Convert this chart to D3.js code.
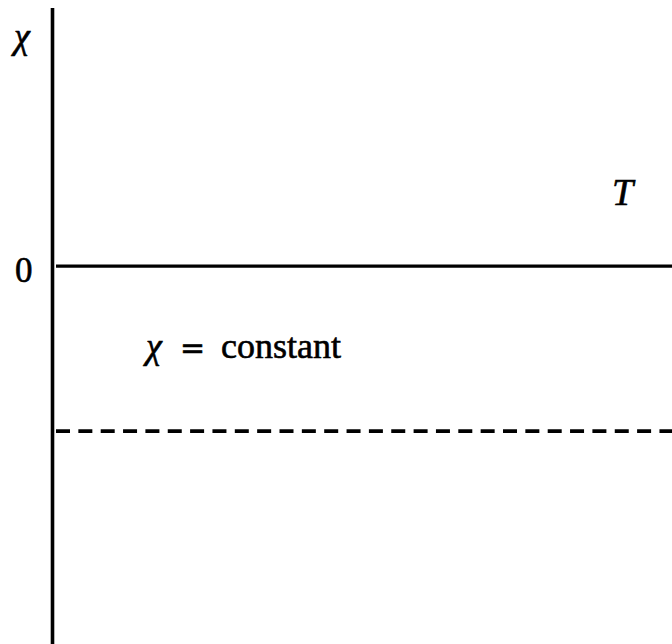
<!DOCTYPE html>
<html>
<head>
<meta charset="utf-8">
<script src="https://cdn.jsdelivr.net/npm/d3@7"></script>
<style>
  html, body { margin: 0; padding: 0; background: #fff; }
  svg { display: block; }
  text { font-family: "Liberation Serif", "DejaVu Serif", serif; fill: #000; stroke: #000; stroke-width: 0.6px; }
</style>
</head>
<body>
<div id="chart"></div>
<script>
// horizontal reference levels of chi (in arbitrary units)
var levelNames = ["zero", "constant"];
var levelValues = [0, -1];
var levelDashed = [false, true];

// axis extent in the same units
var chiDomain = [-2.29, 1.564];
var tDomain = [0, 1];

// text labels
var yTickLabels = ["0"];
var yTickValues = [0];
var axisLabelY = "\u03c7";
var axisLabelX = "T";
var noteSymbol = "\u03c7";
var noteText = "constant";

var svgwidth = 672;
var svgheight = 644;

var svg = d3.select("#chart").append("svg")
    .attr("width", svgwidth)
    .attr("height", svgheight);

//scales
var yScale = d3.scaleLinear()
    .domain(chiDomain)
    .range([644, 8]);

var xScale = d3.scaleLinear()
    .domain(tDomain)
    .range([57, 672]);

var axisX = 52.5;

//vertical chi axis
svg.append("line")
    .attr("x1", axisX)
    .attr("x2", axisX)
    .attr("y1", yScale(chiDomain[1]))
    .attr("y2", yScale(chiDomain[0]))
    .attr("stroke", "#000")
    .attr("stroke-width", 3.6);

//horizontal levels
svg.selectAll("line.level")
    .data(levelValues)
    .enter()
    .append("line")
    .attr("class", (d, i) => "level " + levelNames[i])
    .attr("x1", xScale(tDomain[0]) - 1)
    .attr("x2", xScale(tDomain[1]))
    .attr("y1", d => yScale(d))
    .attr("y2", d => yScale(d))
    .attr("stroke", "#000")
    .attr("stroke-width", (d, i) => levelDashed[i] ? 3.8 : 3.4)
    .attr("stroke-dasharray", (d, i) => levelDashed[i] ? "14,8.35" : null);

//y tick labels
svg.selectAll("text.ytick")
    .data(yTickValues)
    .enter()
    .append("text")
    .attr("class", "ytick")
    .attr("x", 15)
    .attr("y", d => yScale(d) + 16)
    .attr("font-size", 35)
    .text((d, i) => yTickLabels[i]);

//axis labels
svg.append("text")
    .attr("x", 14)
    .attr("y", 48)
    .attr("font-size", 36)
    .attr("font-style", "italic")
    .text(axisLabelY);

svg.append("text")
    .attr("x", 612)
    .attr("y", 205)
    .attr("font-size", 38)
    .attr("font-style", "italic")
    .text(axisLabelX);

//note: chi = constant
var noteY = 358;
svg.append("text")
    .attr("x", 146)
    .attr("y", noteY)
    .attr("font-size", 36)
    .attr("font-style", "italic")
    .text(noteSymbol);

svg.append("text")
    .attr("x", 180)
    .attr("y", noteY)
    .attr("font-size", 30)
    .style("font-family", "'DejaVu Serif', serif")
    .text("=");

svg.append("text")
    .attr("x", 221)
    .attr("y", noteY)
    .attr("font-size", 36)
    .text(noteText);
</script>
</body>
</html>
